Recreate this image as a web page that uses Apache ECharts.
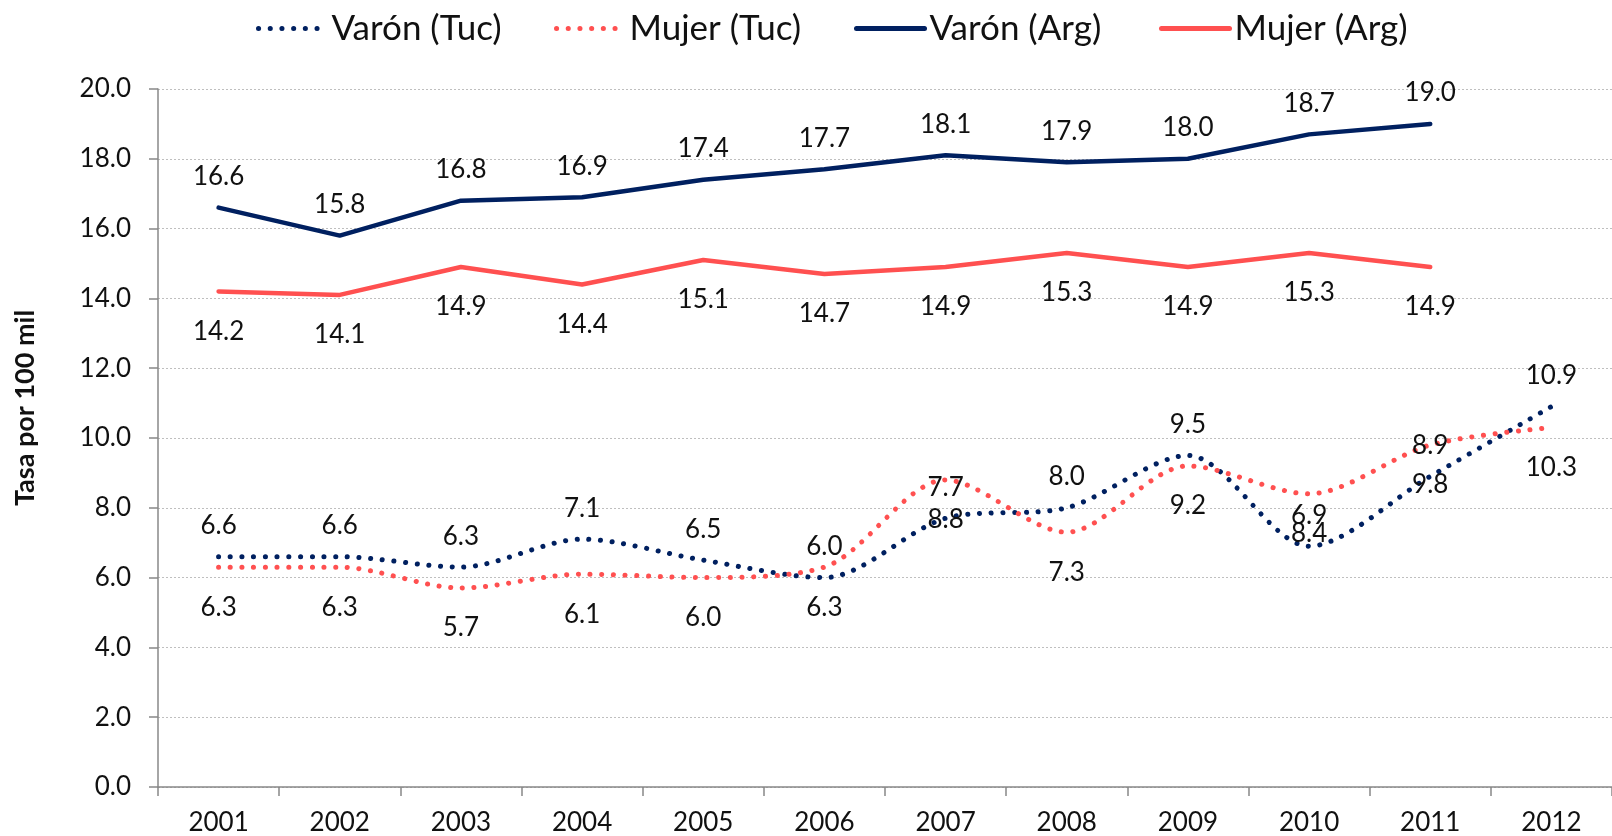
<!DOCTYPE html>
<html>
<head>
<meta charset="utf-8">
<script src="https://cdn.jsdelivr.net/npm/echarts@6/dist/echarts.min.js"></script>
<style>
  html, body { margin: 0; padding: 0; background: #fff; }
  #chart { width: 1612px; height: 836px; }
</style>
</head>
<body>
<div id="chart"></div>
<script>
// datos
const years = ['2001', '2002', '2003', '2004', '2005', '2006', '2007', '2008', '2009', '2010', '2011', '2012'];
const varonTuc = [6.6, 6.6, 6.3, 7.1, 6.5, 6.0, 7.7, 8.0, 9.5, 6.9, 8.9, 10.9];
const mujerTuc = [6.3, 6.3, 5.7, 6.1, 6.0, 6.3, 8.8, 7.3, 9.2, 8.4, 9.8, 10.3];
const varonArg = [16.6, 15.8, 16.8, 16.9, 17.4, 17.7, 18.1, 17.9, 18.0, 18.7, 19.0, null];
const mujerArg = [14.2, 14.1, 14.9, 14.4, 15.1, 14.7, 14.9, 15.3, 14.9, 15.3, 14.9, null];
const seriesNames = ['Varón (Tuc)', 'Mujer (Tuc)', 'Varón (Arg)', 'Mujer (Arg)'];

const NAVY = '#002060';
const RED = '#FF5050';
const FONT = 'Lato';

const chart = echarts.init(document.getElementById('chart'));

const labelTop = {
  show: true,
  position: 'top',
  distance: 18,
  color: '#111',
  fontFamily: FONT,
  fontSize: 26,
  formatter: (p) => (p.value == null ? '' : Number(p.value).toFixed(1)),
};
const labelBottom = Object.assign({}, labelTop, { position: 'bottom', distance: 27 });

const dotted = (color) => ({
  color: color,
  width: 5,
  type: [0.1, 11.6],
  cap: 'round',
});

// casi invisible, solo para colgar las etiquetas
const hiddenSymbol = {
  symbol: 'circle',
  symbolSize: 0.01,
  showSymbol: true,
};

// una leyenda por serie para fijar la posición de cada una
const legendLefts = [251, 549, 849, 1154];
const legends = seriesNames.map((name, i) => ({
  left: legendLefts[i],
  top: 6,
  itemWidth: 68,
  itemHeight: 14,
  itemStyle: { opacity: 0 },
  lineStyle: { width: 5 },
  textStyle: { fontSize: 35, color: '#111', fontFamily: FONT },
  data: [name],
}));

const option = {
  animation: false,
  textStyle: { fontFamily: FONT },
  legend: legends,
  grid: {
    left: 158,
    right: -7,
    top: 89,
    bottom: 49,
  },
  graphic: [
    {
      type: 'text',
      x: 25,
      y: 408,
      rotation: Math.PI / 2,
      style: {
        text: 'Tasa por 100 mil',
        font: 'bold 27px ' + FONT,
        fill: '#111',
        align: 'center',
        verticalAlign: 'middle',
      },
    },
  ],
  xAxis: {
    type: 'category',
    data: years,
    boundaryGap: true,
    axisLine: { lineStyle: { color: '#888', width: 1.5 } },
    axisTick: { show: true, length: 9, lineStyle: { color: '#888', width: 1.5 } },
    axisLabel: { color: '#111', fontSize: 26, margin: 23, fontFamily: FONT },
  },
  yAxis: {
    type: 'value',
    min: 0,
    max: 20,
    interval: 2,
    axisLine: { show: true, lineStyle: { color: '#888', width: 1.5 } },
    axisTick: { show: true, length: 9, lineStyle: { color: '#888', width: 1.5 } },
    axisLabel: {
      color: '#111',
      fontSize: 26,
      margin: 27,
      fontFamily: FONT,
      formatter: (v) => v.toFixed(1),
    },
    splitLine: { lineStyle: { color: '#BFBFBF', type: [2, 2], width: 1 } },
  },
  series: [
    Object.assign({
      name: seriesNames[0],
      type: 'line',
      data: varonTuc,
      smooth: 0.3,
      color: NAVY,
      lineStyle: dotted(NAVY),
      label: labelTop,
    }, hiddenSymbol),
    Object.assign({
      name: seriesNames[1],
      type: 'line',
      data: mujerTuc,
      smooth: 0.3,
      color: RED,
      lineStyle: dotted(RED),
      label: labelBottom,
    }, hiddenSymbol),
    Object.assign({
      name: seriesNames[2],
      type: 'line',
      data: varonArg,
      color: NAVY,
      lineStyle: { color: NAVY, width: 4.5, cap: 'round' },
      label: labelTop,
    }, hiddenSymbol),
    Object.assign({
      name: seriesNames[3],
      type: 'line',
      data: mujerArg,
      color: RED,
      lineStyle: { color: RED, width: 4.5, cap: 'round' },
      label: labelBottom,
    }, hiddenSymbol),
  ],
};

chart.setOption(option);
</script>
</body>
</html>
